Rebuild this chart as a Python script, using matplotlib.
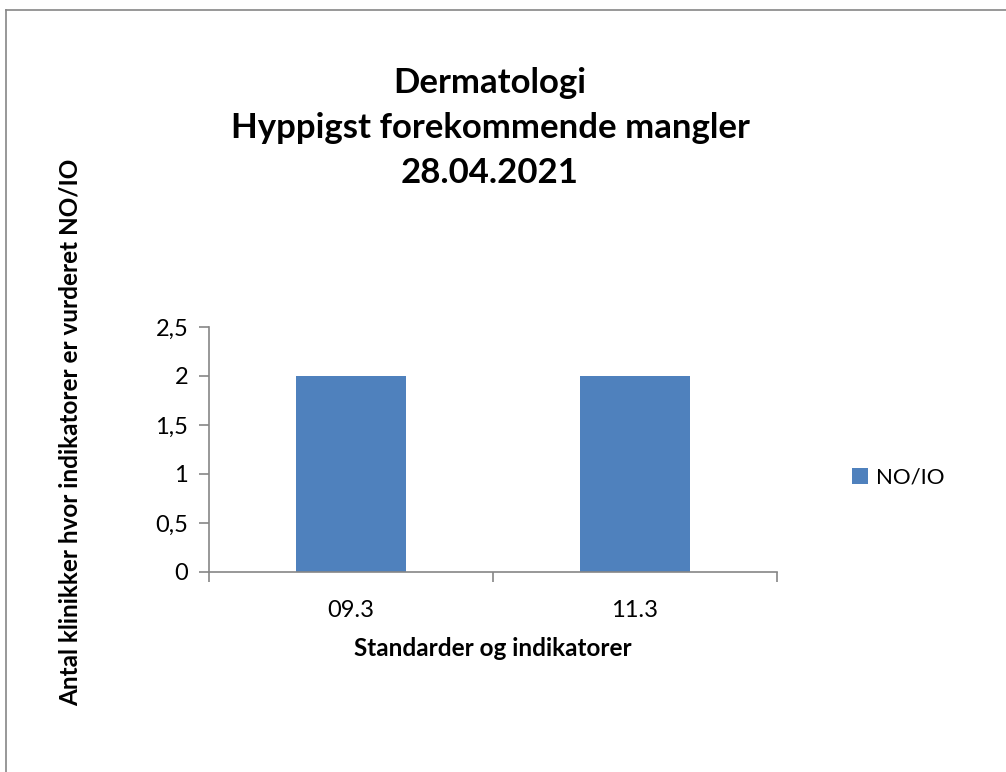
import matplotlib.pyplot as plt
from matplotlib.lines import Line2D

categories = ["09.3", "11.3"]
values = [2, 2]
series_name = "NO/IO"
yticks = [0, 0.5, 1, 1.5, 2, 2.5]
ytick_labels = ["0", "0,5", "1", "1,5", "2", "2,5"]

plt.rcParams["font.family"] = ["Lato", "DejaVu Sans"]

W, H = 1006, 772
fig = plt.figure(figsize=(W / 100, H / 100), dpi=100)

# chart area border (top and left visible)
grey = "#868686"
fig.add_artist(Line2D([6 / W, 1], [1 - 10 / H, 1 - 10 / H], color=grey, lw=1.2))
fig.add_artist(Line2D([6 / W, 6 / W], [0, 1 - 10 / H], color=grey, lw=1.2))

ax = fig.add_axes([209 / W, 1 - 572 / H, (777 - 209) / W, (572 - 327) / H])
x = list(range(len(categories)))
ax.bar(x, values, width=0.387, color="#4F81BD", label=series_name, zorder=2)

ax.set_xlim(-0.5, len(categories) - 0.5)
ax.set_ylim(0, 2.5)
ax.set_yticks(yticks)
ax.set_yticklabels(ytick_labels, fontsize=17)
ax.set_xticks(x)
ax.set_xticklabels(categories, fontsize=17)
ax.set_xticks([-0.5, 0.5, 1.5], minor=True)
ax.tick_params(axis="x", which="major", length=0, pad=20)
ax.tick_params(axis="x", which="minor", length=7, color=grey, width=1.2)
ax.tick_params(axis="y", length=7, color=grey, width=1.2, pad=8)

for s in ["top", "right"]:
    ax.spines[s].set_visible(False)
for s in ["left", "bottom"]:
    ax.spines[s].set_color(grey)
    ax.spines[s].set_linewidth(1.2)

ax.set_xlabel("Standarder og indikatorer", fontsize=17.5, fontweight="bold", labelpad=12)

fig.text(490 / W, 1 - 128 / H, "Dermatologi\nHyppigst forekommende mangler\n28.04.2021",
         ha="center", va="center", fontsize=25, fontweight="bold", linespacing=1.5)

fig.text(70 / W, 1 - 432 / H, "Antal klinikker hvor indikatorer er vurderet NO/IO",
         ha="center", va="center", rotation=90, fontsize=17.5, fontweight="bold")

leg = ax.legend(loc="center left", bbox_to_anchor=(832 / W, 1 - 478 / H),
                bbox_transform=fig.transFigure, frameon=False, fontsize=16,
                handlelength=0.7, handleheight=0.7, handletextpad=0.4)

fig.savefig("out.png", dpi=100)
